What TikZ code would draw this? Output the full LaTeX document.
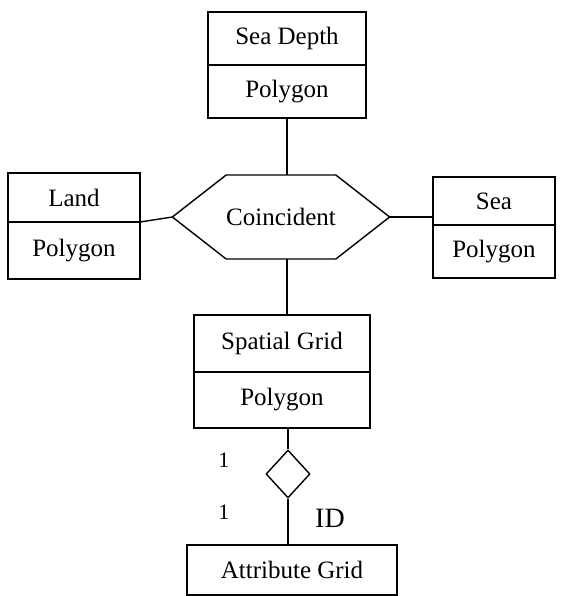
\documentclass[tikz,border=0pt]{standalone}
\usepackage{fontspec}
\setmainfont{Liberation Serif}
\usetikzlibrary{positioning,shapes.geometric,shapes.symbols}

\begin{document}
\begin{tikzpicture}[x=0.5pt,y=-0.5pt,line width=0.7pt,
  c/.style={draw,outer sep=0pt,inner sep=0pt,align=center,
            font=\fontsize{12.5}{15}\selectfont},
  lbl/.style={font=\fontsize{11}{13}\selectfont}]
  \useasboundingbox (0,0) rectangle (566,596);
  \node[c,minimum width=79pt,minimum height=26.5pt] (sdh) at (287,38.5) {Sea Depth};
  \node[c,minimum width=79pt,minimum height=26.5pt,below=0pt of sdh] (sdb) {Polygon};
  \node[c,minimum width=66pt,minimum height=24.5pt] (lh) at (74,197.5) {Land};
  \node[c,minimum width=66pt,minimum height=28.5pt,below=0pt of lh] (lb) {Polygon};
  \node[c,minimum width=61pt,minimum height=24pt] (sh) at (494,201) {Sea};
  \node[c,minimum width=61pt,minimum height=26.5pt,below=0pt of sh] (sb) {Polygon};
  \node[c,signal,signal to=west and east,signal pointer angle=76,
        minimum width=107.5pt,minimum height=42pt] (hex) at (281,217) {Coincident};
  \node[c,minimum width=88pt,minimum height=28.5pt] (sgh) at (282,343.5) {Spatial Grid};
  \node[c,minimum width=88pt,minimum height=28pt,below=0pt of sgh] (sgb) {Polygon};
  \node[draw,diamond,inner sep=0pt,minimum width=22pt,minimum height=24pt] (dia) at (288,474) {};
  \node[c,minimum width=105pt,minimum height=25pt] (ag) at (292,570) {Attribute Grid};
  \node[lbl] (m1) at (224,460) {1};
  \node[lbl] (m2) at (224,512) {1};
  \node[font=\fontsize{14}{16}\selectfont] (id) at (330,518) {ID};
  \draw (sdb.south) -- (sdb.south |- hex.north);
  \draw (sdb.south |- hex.south) -- (sdb.south |- sgh.north);
  \draw (lh.south east) -- (hex.west);
  \draw (hex.east) -- (sh.west |- hex.east);
  \draw (sgb.south -| dia.north) -- (dia.north);
  \draw (dia.south) -- (dia.south |- ag.north);
\end{tikzpicture}
\end{document}
